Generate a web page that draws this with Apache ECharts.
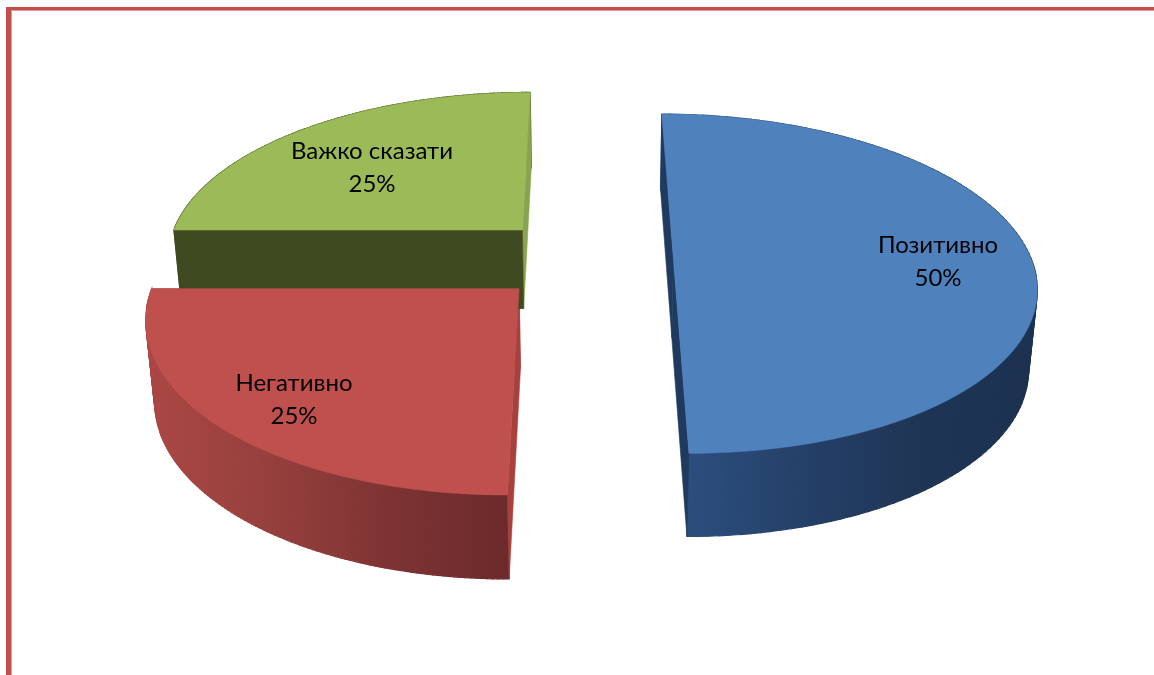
<!DOCTYPE html>
<html><head><meta charset="utf-8">
<style>html,body{margin:0;padding:0;background:#fff}#c{width:1154px;height:675px}</style>
<script src="https://cdn.jsdelivr.net/npm/echarts@6/dist/echarts.min.js"></script>
</head><body><div id="c"></div>
<script>
const categories = ['Позитивно', 'Негативно', 'Важко сказати'];
const values = [50, 25, 25];
const topColors = ['#4f81bd', '#c0504d', '#9bbb59'];
const cutColors = ['#1f3a5e', '#a8403d', '#88a44e'];
const frontColors = ['#1f3a5e', '#a8403d', '#3f4a20'];
const wallRamps = [
  ['#2e5181', '#25426b', '#1f3556', '#1c3150'],
  ['#ab4744', '#96403d', '#7e3333', '#6c2a2b'],
  ['#3f4a20', '#3f4a20']
];
const labelCentres = [[938, 262], [294, 400], [372, 168]];

// scene layout: a single perspective camera over the exploded pie
const V = [584, -859], Y0 = 291, D = 2410, R = 368, PIE = [0, -70], EXPLODE = 92, NADIR = [590, 4400], H = 80;
const total = values.reduce((a, b) => a + b, 0);

function project(X, Y) {
  const w = 1 / (1 - Y / D);
  return [V[0] + X * w, V[1] + (Y0 - V[1]) * w];
}
function drop(p) {
  const w = (p[1] - V[1]) / (Y0 - V[1]);
  const dy = H * Math.pow(w, 0.3);
  return [p[0] + (NADIR[0] - p[0]) * dy / (NADIR[1] - p[1]), p[1] + dy];
}
function sliceGeom(i) {
  let before = 0;
  for (let k = 0; k < i; k++) before += values[k];
  const a0 = -Math.PI / 2 + before / total * 2 * Math.PI;
  const a1 = a0 + values[i] / total * 2 * Math.PI;
  const mid = (a0 + a1) / 2;
  const cx = PIE[0] + EXPLODE * Math.cos(mid), cy = PIE[1] + EXPLODE * Math.sin(mid);
  const rim = [];
  for (let s = 0; s <= 120; s++) {
    const a = a0 + (a1 - a0) * s / 120;
    rim.push(project(cx + R * Math.cos(a), cy + R * Math.sin(a)));
  }
  return { apex: project(cx, cy), rim };
}
function poly(points, fill, z, lw) {
  return { type: 'polygon', z2: z, shape: { points }, style: { fill, stroke: fill, lineWidth: lw || 0.6 } };
}
function renderItem(params) {
  const i = params.dataIndex;
  const g = sliceGeom(i);
  const rim = g.rim, apex = g.apex, first = rim[0], last = rim[rim.length - 1];
  const xs = rim.map(p => p[0]);
  const xMin = Math.min.apply(null, xs), xMax = Math.max.apply(null, xs);
  // one shared gradient in page coordinates, so that overlapping strips leave no seams
  const ramp = wallRamps[i];
  const shade = new echarts.graphic.LinearGradient(xMin, 0, xMax, 0,
    ramp.map((color, k) => ({ offset: k / (ramp.length - 1), color })), true);
  const children = [];
  // the curved wall is swept strip by strip, so its silhouette keeps the straight sides
  for (let s = 0; s < rim.length - 1; s++) {
    const p = rim[s], q = rim[s + 1];
    children.push(poly([p, q, drop(q), drop(p)], shade, 1, 1.2));
  }
  const startFace = [first, apex, drop(apex), drop(first)];
  const endFace = [last, apex, drop(apex), drop(last)];
  children.push(
    poly(startFace, i === 2 ? frontColors[i] : cutColors[i], 2),
    poly(endFace, cutColors[i], i === 2 ? 1 : 2),
    poly([apex].concat(rim), topColors[i], 3),
    { type: 'text', z2: 4, style: {
        x: labelCentres[i][0], y: labelCentres[i][1],
        text: categories[i] + '\n' + values[i] / total * 100 + '%',
        font: '24px Lato, "Noto Sans", sans-serif', fill: '#000',
        align: 'center', verticalAlign: 'middle', lineHeight: 33 } }
  );
  return { type: 'group', children };
}
const chart = echarts.init(document.getElementById('c'), null, { renderer: 'canvas' });
chart.setOption({
  animation: false,
  backgroundColor: '#fff',
  graphic: [
    { type: 'rect', shape: { x: 6, y: 7, width: 1148, height: 3 }, style: { fill: '#c0504d' }, z: 10 },
    { type: 'rect', shape: { x: 6, y: 7, width: 5, height: 668 }, style: { fill: '#c0504d' }, z: 10 },
    { type: 'rect', shape: { x: 11, y: 10, width: 1, height: 665 }, style: { fill: '#e39a98' }, z: 10 },
    { type: 'rect', shape: { x: 11, y: 10, width: 1143, height: 1 }, style: { fill: '#e39a98' }, z: 10 }
  ],
  series: [{
    type: 'custom', coordinateSystem: 'none', renderItem,
    data: values.map((v, i) => ({ value: v, name: categories[i] })),
    silent: true
  }]
});
</script></body></html>
